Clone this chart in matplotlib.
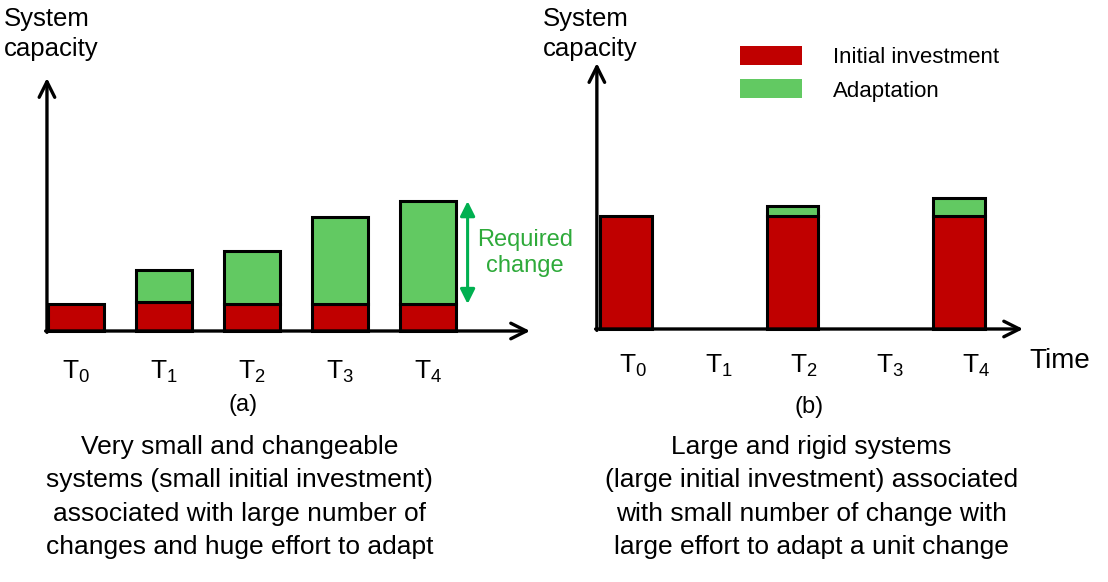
import matplotlib
matplotlib.use("Agg")
import matplotlib.pyplot as plt
from matplotlib.patches import Patch

plt.rcParams['font.family'] = ['Liberation Sans', 'DejaVu Sans']
plt.rcParams['mathtext.fontset'] = 'custom'
plt.rcParams['mathtext.rm'] = 'Liberation Sans'
plt.rcParams['mathtext.it'] = 'Liberation Sans:italic'

RED = '#C00000'
GREEN = '#62C962'
DARKGREEN = '#00B050'

# data
times = [r'$\mathregular{T_0}$', r'$\mathregular{T_1}$', r'$\mathregular{T_2}$',
         r'$\mathregular{T_3}$', r'$\mathregular{T_4}$']
a_pos = [0, 1, 2, 3, 4]
a_initial = [1.0, 1.07, 1.0, 1.0, 1.0]
a_adapt = [0.0, 1.19, 1.96, 3.22, 3.81]
b_pos = [0, 2, 4]
b_initial = [4.19, 4.19, 4.19]
b_adapt = [0.0, 0.37, 0.67]

cap_a = ("Very small and changeable\nsystems (small initial investment)\n"
         "associated with large number of\nchanges and huge effort to adapt")
cap_b = ("Large and rigid systems\n(large initial investment) associated\n"
         "with small number of change with\nlarge effort to adapt a unit change")

W, H = 1108, 582
fig = plt.figure(figsize=(W / 100, H / 100), dpi=100)

# panel a: 88 px per slot, 27 px per unit, origin at px (76, 331)
ax1 = fig.add_axes([0, 0, 560 / W, 1])
ax1.set_xlim(-76 / 88, (560 - 76) / 88)
ax1.set_ylim(-(H - 331) / 27, 331 / 27)
# panel b: 83.25 px per slot, origin at px (626, 329)
ax2 = fig.add_axes([560 / W, 0, (W - 560) / W, 1])
ax2.set_xlim((560 - 626) / 83.25, (W - 626) / 83.25)
ax2.set_ylim(-(H - 329) / 27, 329 / 27)

for ax in (ax1, ax2):
    ax.axis('off')

def draw_axes(ax, x0, xend, ytop):
    arr = dict(arrowstyle='->', lw=2.4, color='black', mutation_scale=28,
               shrinkA=0, shrinkB=0)
    ax.annotate('', xy=(x0, ytop), xytext=(x0, -0.05), arrowprops=arr)
    ax.annotate('', xy=(xend, 0), xytext=(x0 - 0.015, 0), arrowprops=arr)

# panel a bars
ax1.bar(a_pos, a_initial, width=0.64, color=RED, edgecolor='black', lw=2.2, zorder=3)
for x, b, h in zip(a_pos, a_initial, a_adapt):
    if h > 0:
        ax1.bar(x, h, bottom=b, width=0.64, color=GREEN, edgecolor='black', lw=2.2, zorder=3)
draw_axes(ax1, -0.33, 5.16, 9.37)

for x, t in zip(a_pos, times):
    ax1.text(x, -1.5, t, ha='center', va='center', fontsize=19)

# required change arrow
top = a_initial[4] + a_adapt[4]
ax1.annotate('', xy=(4.45, top), xytext=(4.45, a_initial[4]),
             arrowprops=dict(arrowstyle='<|-|>', lw=2.2, color=DARKGREEN,
                             mutation_scale=22, shrinkA=0, shrinkB=0))
ax1.text(5.1, 2.88, 'Required\nchange', ha='center', va='center',
         fontsize=17, color='#2EAA3A', linespacing=1.25)

ax1.text(-76 / 88 + 4 / 88, 12.26 - 34 / 27, 'System\ncapacity', ha='left', va='center',
         fontsize=18.5, linespacing=1.35)
ax1.text(1.9, -2.74, '(a)', ha='center', va='center', fontsize=17)
ax1.text(1.86, -3.85, cap_a, ha='center', va='top', fontsize=19, linespacing=1.5)

# panel b bars
ax2.bar(b_pos, b_initial, width=0.62, color=RED, edgecolor='black', lw=2.2, zorder=3)
for x, b, h in zip(b_pos, b_initial, b_adapt):
    if h > 0:
        ax2.bar(x, h, bottom=b, width=0.62, color=GREEN, edgecolor='black', lw=2.2, zorder=3)
draw_axes(ax2, -0.35, 4.77, 9.85)

for x, t in zip(a_pos, times):
    ax2.text(x * 1.03 + 0.08, -1.35, t, ha='center', va='center', fontsize=19)
ax2.text(4.85, -1.2, 'Time', ha='left', va='center', fontsize=20)

ax2.text(-1.0, 12.19 - 34 / 27, 'System\ncapacity', ha='left', va='center',
         fontsize=18.5, linespacing=1.35)
ax2.text(2.2, -2.88, '(b)', ha='center', va='center', fontsize=17)
ax2.text(2.23, -3.92, cap_b, ha='center', va='top', fontsize=19, linespacing=1.5)

handles = [Patch(facecolor=RED, edgecolor='none'), Patch(facecolor=GREEN, edgecolor='none')]
ax2.legend(handles, ['Initial investment', 'Adaptation'], loc='upper left',
           bbox_to_anchor=(740 / W, 1 - 46 / H), bbox_transform=fig.transFigure,
           frameon=False, fontsize=16, handlelength=2.8, handleheight=0.95,
           handletextpad=1.4, labelspacing=0.5, borderpad=0, borderaxespad=0)

fig.savefig('out.png', dpi=100)
